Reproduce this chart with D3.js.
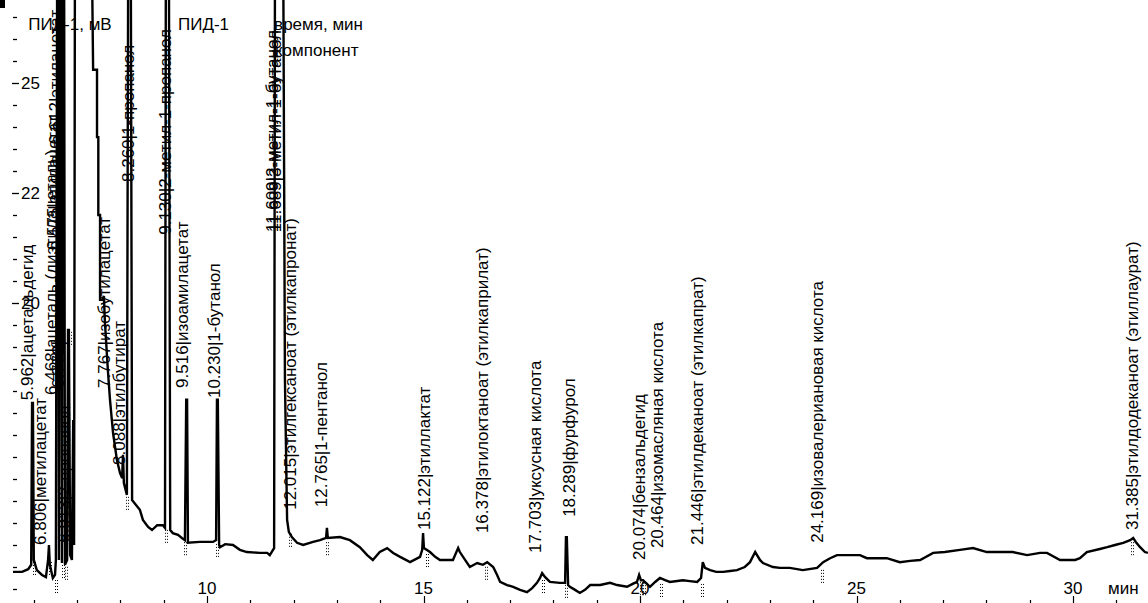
<!DOCTYPE html>
<html>
<head>
<meta charset="utf-8">
<script src="https://cdn.jsdelivr.net/npm/d3@7"></script>
<style>
  body { margin: 0; background: #fff; }
  svg { display: block; }
  text { font-family: "Liberation Sans", Arial, sans-serif; font-size: 17px; fill: #000; }
</style>
</head>
<body>
<div id="chart"></div>
<script>
// chromatogram trace: [time, min ; signal, mV] (off-scale peaks are cut at the top)
var trace = [
  [5.52,138.9],[5.73,138.9],[5.87,139.5],[5.94,140.5],[5.96,177.3],[5.98,177.3],[6.00,141.6],[6.07,139.3],
  [6.19,138.2],[6.28,137.7],[6.33,141.6],[6.35,145.0],[6.37,140.5],[6.44,137.5],[6.49,138.2],[6.51,141.6],
  [6.54,280],[6.56,280],[6.58,141.6],[6.61,280],[6.63,280],[6.65,140.9],[6.67,280],[6.70,280],[6.72,140.5],
  [6.77,141.6],[6.79,193.9],[6.81,193.9],[6.84,142.7],[6.88,141.6],[6.91,173.4],[6.93,145.0],[6.95,280],
  [7.34,280],[7.37,253.0],[7.46,253.0],[7.46,237.7],[7.49,237.7],[7.49,220.0],[7.53,220.0],[7.53,200.7],
  [7.58,200.7],[7.62,201.6],[7.64,196.1],[7.71,184.8],[7.76,178.0],[7.83,170.5],[7.92,164.3],[7.99,161.4],
  [8.04,160.2],[8.06,165.5],[8.08,159.1],[8.15,156.4],[8.18,280],[8.24,280],[8.27,155.2],[8.36,154.1],
  [8.45,153.0],[8.52,150.7],[8.64,149.1],[8.73,148.4],[8.85,149.5],[8.98,149.5],[9.03,148.9],[9.05,280],
  [9.12,280],[9.15,148.4],[9.21,147.7],[9.33,147.3],[9.42,146.6],[9.49,146.1],[9.52,178.0],[9.54,178.0],
  [9.56,145.5],[9.84,145.7],[10.14,145.7],[10.21,146.1],[10.23,178.0],[10.25,178.0],[10.28,145.0],
  [10.30,144.5],[10.42,145.2],[10.60,145.0],[10.76,143.9],[10.92,143.4],[11.22,143.2],[11.39,143.2],
  [11.45,142.7],[11.55,144.3],[11.57,280],[11.76,280],[11.80,182.5],[11.85,150.7],[11.89,148.0],
  [11.96,146.8],[12.08,145.5],[12.22,145.0],[12.45,145.7],[12.61,146.1],[12.75,146.6],[12.77,148.9],
  [12.79,146.6],[13.07,146.8],[13.30,146.1],[13.53,144.5],[13.70,142.7],[13.83,141.6],[13.99,143.4],
  [14.16,144.3],[14.30,143.2],[14.46,142.3],[14.69,141.1],[14.92,142.3],[14.97,143.9],[14.99,147.7],
  [15.01,144.3],[15.15,143.4],[15.27,142.3],[15.38,141.6],[15.68,141.6],[15.80,144.3],[15.84,143.4],
  [15.96,141.6],[16.07,140.0],[16.24,140.9],[16.37,140.5],[16.47,141.1],[16.61,140.0],[16.70,138.2],
  [16.77,136.6],[16.93,135.9],[17.07,135.5],[17.23,134.8],[17.39,134.3],[17.51,135.2],[17.62,136.4],
  [17.69,137.5],[17.74,138.6],[17.81,137.7],[17.92,136.6],[18.15,136.4],[18.27,136.4],[18.29,146.8],
  [18.31,146.8],[18.34,135.9],[18.38,135.5],[18.50,134.8],[18.61,134.1],[18.73,134.8],[18.85,135.9],
  [19.08,135.9],[19.31,136.4],[19.47,135.9],[19.70,135.5],[19.82,136.1],[19.93,136.6],[19.98,138.2],
  [20.02,137.0],[20.07,137.0],[20.23,135.5],[20.35,136.6],[20.46,137.5],[20.58,137.0],[20.69,136.6],
  [20.99,137.0],[21.15,136.8],[21.32,136.6],[21.41,137.5],[21.45,141.1],[21.50,139.8],[21.62,139.3],
  [21.76,138.9],[21.92,138.9],[22.08,139.1],[22.24,139.3],[22.42,140.0],[22.54,141.1],[22.66,143.4],
  [22.77,141.6],[22.84,140.9],[23.07,140.0],[23.23,139.8],[23.46,139.8],[23.76,139.3],[24.09,139.8],
  [24.23,141.1],[24.39,142.0],[24.55,142.7],[24.85,142.7],[25.08,142.7],[25.24,142.0],[25.54,142.0],
  [25.70,142.0],[26.00,141.1],[26.24,141.4],[26.47,141.6],[26.77,143.2],[27.04,143.4],[27.39,143.9],
  [27.69,144.3],[28.01,143.4],[28.31,143.4],[28.61,143.4],[28.94,142.7],[29.24,143.2],[29.40,143.2],
  [29.70,141.6],[30.05,141.6],[30.16,142.0],[30.32,143.4],[30.62,144.1],[30.79,144.5],[30.97,145.0],
  [31.16,145.5],[31.32,146.1],[31.39,146.6],[31.45,145.7],[31.55,144.5],[31.66,143.4],[31.73,143.2]
];

// peak labels: anchor time, signal level where the text starts, text
var labelTime = [5.98, 6.28, 6.54, 6.58, 6.63, 6.70, 6.84, 7.76, 8.11, 8.31, 9.17, 9.56, 10.30, 11.64, 11.71,
  12.06, 12.77, 15.15, 16.49, 17.71, 18.50, 20.12, 20.53, 21.45, 24.23, 31.50];
var labelMv = [177.9, 145.0, 179.1, 212.0, 236.0, 180.7, 145.5, 180.7, 163.2, 227.5, 215.5, 180.7, 178.4, 216.1, 216.1,
  153.0, 153.6, 148.4, 147.7, 143.2, 151.4, 141.6, 144.3, 145.0, 145.5, 148.4];
var labelText = [
  "5.962|ацетальдегид", "6.806|метилацетат", "6.468|ацеталь (диэтилацеталь)", "6.575|этилацетат",
  "6.612|этилацетат", "6.772|метанол", "6.913|2-пропанол", "7.767|изобутилацетат", "8.088|этилбутират",
  "8.260|1-пропанол", "9.130|2-метил-1-пропанол", "9.516|изоамилацетат", "10.230|1-бутанол",
  "11.609|2-метил-1-бутанол", "11.689|3-метил-1-бутанол", "12.015|этилгексаноат (этилкапронат)",
  "12.765|1-пентанол", "15.122|этиллактат", "16.378|этилоктаноат (этилкаприлат)", "17.703|уксусная кислота",
  "18.289|фурфурол", "20.074|бензальдегид", "20.464|изомасляная кислота", "21.446|этилдеканоат (этилкапрат)",
  "24.169|изовалериановая кислота", "31.385|этилдодеканоат (этиллаурат)"
];

// peak start/end marks
var markTime = [5.99, 6.35, 6.49, 6.65, 6.72, 6.81, 8.13, 9.02, 9.48, 10.20, 11.89, 12.75, 15.05, 16.41, 17.73,
  18.27, 20.00, 20.07, 20.46, 21.40, 24.17, 31.35];

var xTicks = d3.range(6, 32);
var xLabels = [10, 15, 20, 25, 30];
var yTicks = d3.range(135, 270, 5);
var yLabelMv = [250, 225, 200];
var yLabelText = ["25", "22", "20"];
var headers = [
  { text: "ПИД-1, мВ", t: 5.87, mv: 262.0 },
  { text: "ПИД-1", t: 9.33, mv: 262.0 },
  { text: "время, мин", t: 11.55, mv: 262.0 },
  { text: "компонент", t: 11.57, mv: 256.1 }
];

var width = 1148, height = 603;

var svg = d3.select("#chart").append("svg")
    .attr("width", width)
    .attr("height", height);

var x = d3.scaleLinear().domain([10, 30]).range([207, 1073]);
var y = d3.scaleLinear().domain([135, 265]).range([589, 17]);

svg.append("rect").attr("x", 0).attr("y", 0).attr("width", 5).attr("height", 8).attr("fill", "#000");

// y ticks
svg.selectAll(".ytick").data(yTicks).enter().append("line")
    .attr("x1", d => yLabelMv.indexOf(d) >= 0 ? 12 : 13)
    .attr("x2", d => yLabelMv.indexOf(d) >= 0 ? 19 : 17)
    .attr("y1", d => Math.round(y(d)) + 0.5)
    .attr("y2", d => Math.round(y(d)) + 0.5)
    .attr("stroke", "#000").attr("stroke-width", 1.3);

svg.selectAll(".ylab").data(yLabelMv).enter().append("text")
    .attr("x", 21)
    .attr("y", d => y(d) + 6)
    .text((d, i) => yLabelText[i]);

// x ticks
svg.selectAll(".xtick").data(xTicks).enter().append("line")
    .attr("x1", d => Math.round(x(d)) + 0.5)
    .attr("x2", d => Math.round(x(d)) + 0.5)
    .attr("y1", d => xLabels.indexOf(d) >= 0 ? 596 : 600)
    .attr("y2", 603)
    .attr("stroke", "#000").attr("stroke-width", 1.2);

svg.selectAll(".xlab").data(xLabels).enter().append("text")
    .attr("x", d => x(d))
    .attr("y", 594)
    .attr("text-anchor", "middle")
    .text(d => d);

svg.append("text").attr("x", x(30.81)).attr("y", 594).text("мин");

// header texts
svg.selectAll(".head").data(headers).enter().append("text")
    .attr("x", d => x(d.t))
    .attr("y", d => y(d.mv))
    .text(d => d.text);

// trace
var line = d3.line().x(d => x(d[0])).y(d => y(d[1]));

svg.append("path")
    .datum(trace)
    .attr("d", line)
    .attr("fill", "none")
    .attr("stroke", "#000")
    .attr("stroke-width", 2.4)
    .attr("stroke-linejoin", "miter");

// peak marks, dotted, hung under the trace
var bis = d3.bisector(d => d[0]).left;
function mvAt(t) {
    var i = Math.max(1, Math.min(trace.length - 1, bis(trace, t)));
    var a = trace[i - 1], b = trace[i];
    return Math.min(a[1], b[1]);
}
markTime.forEach(function (t) {
    var y0 = y(mvAt(t));
    [0, 2].forEach(function (dx) {
        svg.append("line")
            .attr("x1", Math.round(x(t)) + dx + 0.5).attr("x2", Math.round(x(t)) + dx + 0.5)
            .attr("y1", y0 + 2).attr("y2", y0 + 17)
            .attr("stroke", "#000").attr("stroke-width", 1)
            .attr("stroke-dasharray", "1,2");
    });
});

// peak labels
svg.selectAll(".plab").data(labelText).enter().append("text")
    .attr("transform", (d, i) => "translate(" + x(labelTime[i]) + "," + y(labelMv[i]) + ") rotate(-90)")
    .text(d => d);
</script>
</body>
</html>
